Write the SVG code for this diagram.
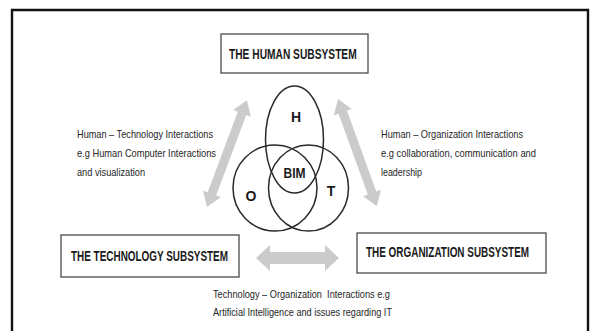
<svg xmlns="http://www.w3.org/2000/svg" width="591" height="331" viewBox="0 0 591 331">
  <style>
    .frame { fill: none; stroke: #111; stroke-width: 2.4; }
    .box { fill: #fff; stroke: #4a4a4a; stroke-width: 1.3; }
    .title { font-family: "Liberation Sans", Arial, sans-serif; font-weight: bold; font-size: 14px; fill: #1a1a1a; }
    .set { fill: none; stroke: #2a2a2a; stroke-width: 1.5; }
    .setlabel { font-family: "Liberation Sans", Arial, sans-serif; font-weight: bold; font-size: 14px; fill: #1a1a1a; text-anchor: middle; }
    .note { font-family: "Liberation Sans", Arial, sans-serif; font-size: 11.5px; fill: #262626; white-space: pre; }
    .arrow { fill: #cbcbcb; }
  </style>
  <defs>
    <!-- double-headed block arrow, 114 long, laid along +x -->
    <path id="dblArrow" d="M0,0 L14,-9.5 L14,-4.5 L100,-4.5 L100,-9.5 L114,0 L100,9.5 L100,4.5 L14,4.5 L14,9.5 Z"/>
  </defs>

  <rect width="591" height="331" fill="#fff"/>
  <!-- outer frame, open at the bottom edge of the canvas -->
  <path class="frame" d="M12,340 L12,10 L588,10 L588,340"/>

  <!-- interaction arrows -->
  <g id="connectors" class="arrow">
    <use href="#dblArrow" transform="translate(207,207) rotate(-69.5)"/>
    <use href="#dblArrow" transform="translate(338,99) rotate(70.1)"/>
    <path d="M256,258 L270,245 L270,252 L325,252 L325,245 L339,258 L325,271 L325,264 L270,264 L270,271 Z"/>
  </g>

  <!-- titles are set in a condensed cut by squeezing them horizontally -->
  <g id="human-subsystem">
    <rect class="box" x="221" y="34" width="147" height="39"/>
    <text class="title" transform="translate(229,59) scale(0.73,1)">THE HUMAN SUBSYSTEM</text>
  </g>

  <g id="technology-subsystem">
    <rect class="box" x="61" y="235" width="178" height="42"/>
    <text class="title" transform="translate(71,261) scale(0.71,1)">THE TECHNOLOGY SUBSYSTEM</text>
  </g>

  <g id="organization-subsystem">
    <rect class="box" x="357" y="233" width="189" height="40"/>
    <text class="title" transform="translate(366,257) scale(0.71,1)">THE ORGANIZATION SUBSYSTEM</text>
  </g>

  <!-- BIM at the overlap of the three subsystems -->
  <g id="bim-venn">
    <ellipse class="set" cx="294.5" cy="139.5" rx="29" ry="53.5"/>
    <ellipse class="set" cx="275" cy="188" rx="42" ry="43"/>
    <ellipse class="set" cx="308.5" cy="188" rx="40" ry="43"/>
    <text class="setlabel" x="296" y="122" font-size="13">H</text>
    <text class="setlabel" x="294.5" y="178" textLength="22" lengthAdjust="spacingAndGlyphs">BIM</text>
    <text class="setlabel" x="251" y="201">O</text>
    <text class="setlabel" x="331" y="196">T</text>
  </g>

  <g id="human-technology-note">
    <text class="note" x="77" y="138" textLength="136" lengthAdjust="spacingAndGlyphs">Human – Technology Interactions</text>
    <text class="note" x="77" y="157" textLength="139" lengthAdjust="spacingAndGlyphs">e.g Human Computer Interactions</text>
    <text class="note" x="77" y="176" textLength="68" lengthAdjust="spacingAndGlyphs">and visualization</text>
  </g>

  <g id="human-organization-note">
    <text class="note" x="381" y="138" textLength="142" lengthAdjust="spacingAndGlyphs">Human – Organization Interactions</text>
    <text class="note" x="381" y="157" textLength="155" lengthAdjust="spacingAndGlyphs">e.g collaboration, communication and</text>
    <text class="note" x="381" y="176" textLength="41" lengthAdjust="spacingAndGlyphs">leadership</text>
  </g>

  <g id="technology-organization-note">
    <text class="note" x="213" y="298" font-size="11" textLength="177" lengthAdjust="spacingAndGlyphs">Technology – Organization  Interactions e.g</text>
    <text class="note" x="213" y="316" font-size="11" textLength="179" lengthAdjust="spacingAndGlyphs">Artificial Intelligence and issues regarding IT</text>
  </g>
</svg>
